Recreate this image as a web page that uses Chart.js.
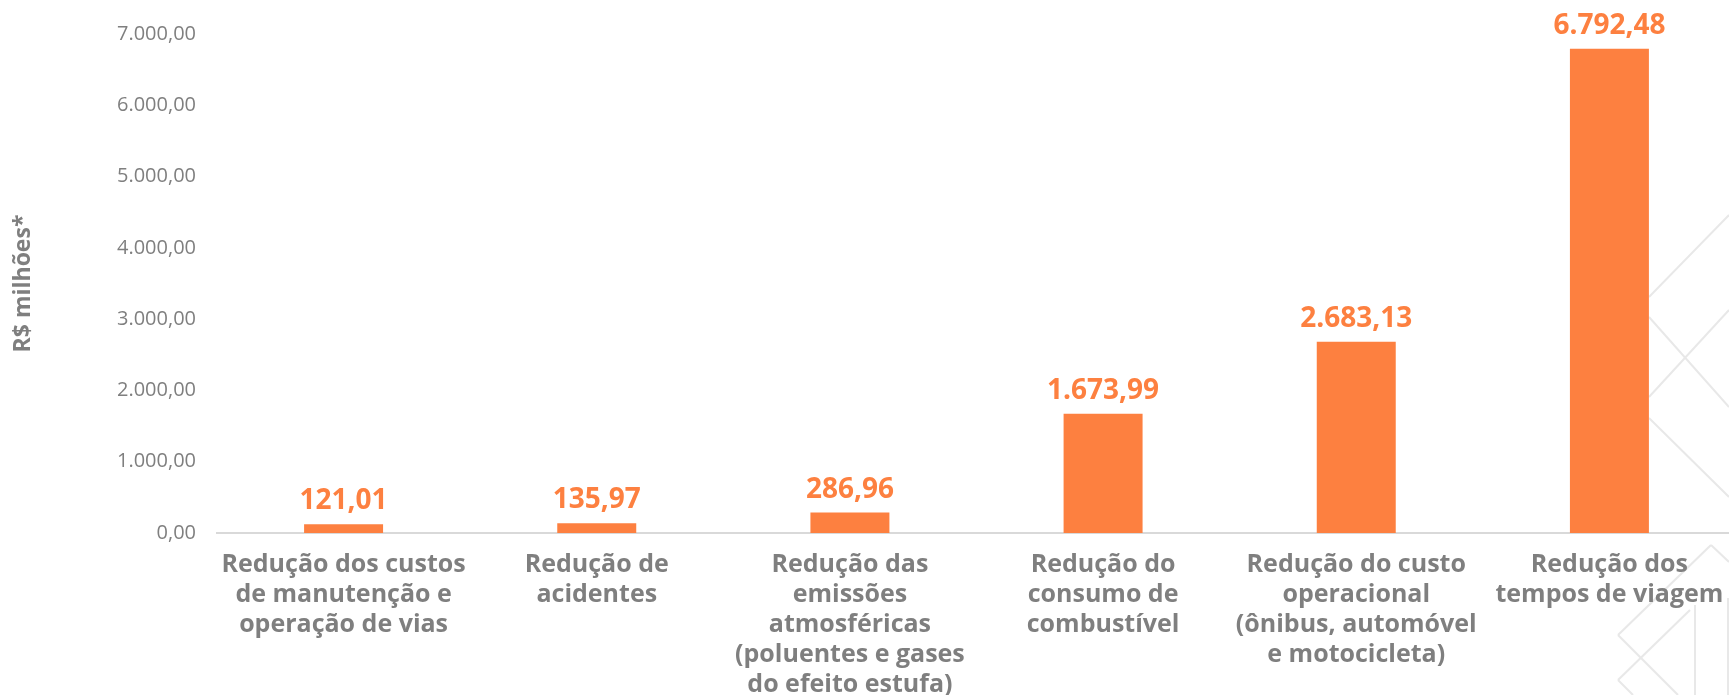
<!DOCTYPE html>
<html>
<head>
<meta charset="utf-8">
<script src="https://cdn.jsdelivr.net/npm/chart.js@4"></script>
<style>
  html, body { margin: 0; padding: 0; background: #ffffff; overflow: hidden; }
  #wrap { position: relative; width: 1736px; height: 695px; }
  #deco { position: absolute; left: 0; top: 0; width: 1736px; height: 695px; }
  #chart { position: absolute; left: 0; top: 0; }
</style>
</head>
<body>
<div id="wrap">
  <svg id="deco" width="1736" height="695" xmlns="http://www.w3.org/2000/svg">
    <g stroke="#e8e8e8" stroke-width="2" fill="none">
      <line x1="1729" y1="215" x2="1649" y2="297"/>
      <line x1="1649" y1="317" x2="1729" y2="407"/>
      <line x1="1729" y1="310" x2="1649" y2="397"/>
      <line x1="1649" y1="418" x2="1729" y2="497"/>
      <line x1="1711" y1="545" x2="1618" y2="635"/>
      <line x1="1711" y1="545" x2="1729" y2="562"/>
      <line x1="1618" y1="635" x2="1678" y2="695"/>
      <line x1="1618" y1="680" x2="1690" y2="610"/>
      <line x1="1618" y1="680" x2="1633" y2="695"/>
      <line x1="1695" y1="605" x2="1695" y2="695"/>
      <line x1="1728" y1="598" x2="1728" y2="695"/>
    </g>
  </svg>
  <canvas id="chart"></canvas>
</div>
<script>
const categories = [
  ["Redução dos custos", "de manutenção e", "operação de vias"],
  ["Redução de", "acidentes"],
  ["Redução das", "emissões", "atmosféricas", "(poluentes e gases", "do efeito estufa)"],
  ["Redução do", "consumo de", "combustível"],
  ["Redução do custo", "operacional", "(ônibus, automóvel", "e motocicleta)"],
  ["Redução dos", "tempos de viagem"]
];
const values = [121.01, 135.97, 286.96, 1673.99, 2683.13, 6792.48];
const yTicks = [0, 1000, 2000, 3000, 4000, 5000, 6000, 7000];
const yTitle = "R$ milhões*";

function fmtBR(v) {
  const neg = v < 0;
  const s = Math.abs(v).toFixed(2);
  let [ip, dp] = s.split(".");
  ip = ip.replace(/\B(?=(\d{3})+(?!\d))/g, ".");
  return (neg ? "-" : "") + ip + "," + dp;
}

const ORANGE = "#fd8040";
const GRAY = "#7f7f7f";

const valueLabels = {
  id: "valueLabels",
  afterDatasetsDraw(chart) {
    const ctx = chart.ctx;
    const meta = chart.getDatasetMeta(0);
    ctx.save();
    ctx.font = "bold 28px 'Open Sans'";
    ctx.fillStyle = ORANGE;
    ctx.textAlign = "center";
    ctx.textBaseline = "alphabetic";
    meta.data.forEach((el, i) => {
      ctx.fillText(fmtBR(values[i]), el.x, el.y - 15);
    });
    ctx.restore();
  }
};

new Chart(document.getElementById("chart"), {
  type: "bar",
  data: {
    labels: categories,
    datasets: [{
      data: values,
      backgroundColor: ORANGE,
      borderWidth: 0,
      categoryPercentage: 1.0,
      barPercentage: 0.312
    }]
  },
  options: {
    responsive: true,
    maintainAspectRatio: false,
    animation: false,
    events: [],
    layout: { padding: { top: 34, right: 0, left: 0, bottom: 0 } },
    plugins: {
      legend: { display: false },
      tooltip: { enabled: false }
    },
    scales: {
      x: {
        grid: { display: false, drawTicks: false },
        border: { display: true, color: "#d9d9d9", width: 2 },
        ticks: {
          color: GRAY,
          font: { family: "'Open Sans'", size: 25, weight: "bold", lineHeight: 1.2 },
          padding: 17,
          autoSkip: false,
          maxRotation: 0,
          minRotation: 0
        },
        afterFit(scale) {
          scale.height = 162;
          scale.paddingLeft = 0;
          scale.paddingRight = 0;
        }
      },
      y: {
        min: 0,
        max: 7000,
        afterBuildTicks(scale) { scale.ticks = yTicks.map(v => ({ value: v })); },
        grid: { display: false, drawTicks: false },
        border: { display: false },
        ticks: {
          color: GRAY,
          font: { family: "'Open Sans'", size: 20 },
          padding: 21,
          callback: (v) => fmtBR(v)
        },
        title: {
          display: true,
          text: yTitle,
          color: GRAY,
          font: { family: "'Open Sans'", size: 23, weight: "bold" },
          padding: { top: 10, bottom: 0 }
        },
        afterFit(scale) { scale.width = 217; }
      }
    }
  },
  plugins: [valueLabels]
});
</script>
</body>
</html>
